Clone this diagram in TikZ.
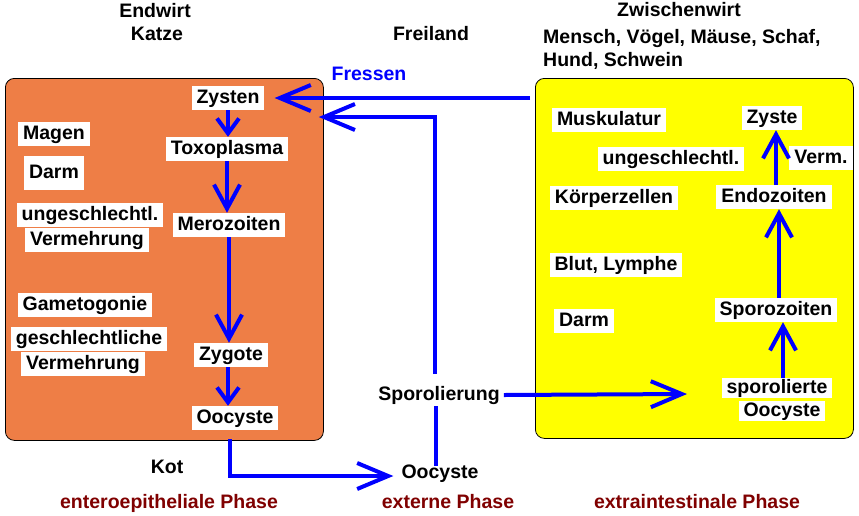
\documentclass[tikz,border=0pt]{standalone}
\usepackage{fontspec}
\setmainfont{Liberation Sans}
\usetikzlibrary{arrows.meta}
\definecolor{boxorange}{RGB}{238,126,70}
\definecolor{boxyellow}{RGB}{255,255,0}
\definecolor{phasered}{RGB}{128,0,0}
\definecolor{arrowblue}{RGB}{0,0,255}
\tikzset{
  lab/.style={fill=white, inner xsep=5pt, inner ysep=3pt, text height=14pt, text depth=4pt,
    font=\bfseries\fontsize{19.5}{22}\selectfont},
  txt/.style={inner sep=0pt, text height=14pt, text depth=4pt,
    font=\bfseries\fontsize{19.5}{22}\selectfont},
  phase/.style={txt, text=phasered},
  conn/.style={draw=arrowblue, line width=4pt},
  tipS/.style={conn, -{Straight Barb[length=15pt,width=22pt]}},
  tipM/.style={conn, -{Straight Barb[length=24pt,width=26pt]}},
  tipL/.style={conn, -{Straight Barb[length=31pt,width=26pt]}},
  hostbox/.style={draw=black, line width=0.8pt, rounded corners=9pt, anchor=north west, inner sep=0pt}
}
\begin{document}
\begin{tikzpicture}[x=1pt,y=-1pt]
\useasboundingbox[fill=white] (0,0) rectangle (859,515);

% host boxes
\node[hostbox, fill=boxorange, minimum width=318pt, minimum height=362pt] (lbox) at (5,78) {};
\node[hostbox, fill=boxyellow, minimum width=318pt, minimum height=360pt] (rbox) at (535,78) {};

% headers
\node[txt] (endwirt) at (155,12) {Endwirt};
\node[txt] (katze) at (157,35) {Katze};
\node[txt] (freiland) at (431,35) {Freiland};
\node[txt] (zwischen) at (679,11) {Zwischenwirt};
\node[txt, anchor=west] (wirte1) at (543,38) {Mensch, Vögel, Mäuse, Schaf,};
\node[txt, anchor=west] (wirte2) at (543,61) {Hund, Schwein};
\node[txt, text=arrowblue] (fressen) at (369,75) {Fressen};

% left box
\node[lab] (zysten) at (228,98) {Zysten};
\node[lab] (toxo) at (227,149) {Toxoplasma};
\node[lab] (mero) at (229,225) {Merozoiten};
\node[lab] (zygote) at (231,355) {Zygote};
\node[lab] (oc1) at (235,418) {Oocyste};
\node[lab] (magen) at (54,134) {Magen};
\node[lab, minimum height=34pt] (darm1) at (54,173) {Darm};
\node[lab] (ung1) at (90,215) {ungeschlechtl.};
\node[lab] (verm1) at (87,240) {Vermehrung};
\node[lab] (gameto) at (85,305) {Gametogonie};
\node[lab] (gesch) at (89,339) {geschlechtliche};
\node[lab] (verm2) at (83,364) {Vermehrung};

% external
\node[txt] (kot) at (167,468) {Kot};
\node[txt] (spor) at (439,395) {Sporolierung};
\node[txt] (oc2) at (440,473) {Oocyste};

% right box
\node[lab] (musk) at (609,120) {Muskulatur};
\node[lab] (ung2) at (671,159) {ungeschlechtl.};
\node[lab] (koerper) at (614,198) {Körperzellen};
\node[lab] (blut) at (616,265) {Blut, Lymphe};
\node[lab] (darm2) at (584,321) {Darm};
\node[lab] (zyste) at (772,118) {Zyste};
\node[lab] (vermk) at (821,158) {Verm.};
\node[lab] (endo) at (774,197) {Endozoiten};
\node[lab] (spz) at (776,310) {Sporozoiten};
\node[lab, inner ysep=1pt] (spo1) at (777,388) {sporolierte};
\node[lab, inner ysep=1pt] (spo2) at (782,411) {Oocyste};

% phases
\node[phase] (ph1) at (169,503) {enteroepitheliale Phase};
\node[phase] (ph2) at (448,503) {externe Phase};
\node[phase] (ph3) at (697,503) {extraintestinale Phase};

% coordinates for free ends
\coordinate (corner) at (435,117);
\coordinate (sptip) at (687,394);

% left chain
\draw[tipS] (zysten.south) -- (zysten.south |- toxo.north);
\draw[tipM] (toxo.south) -- (toxo.south |- mero.north);
\draw[tipM] (mero.south) -- (mero.south |- zygote.north);
\draw[tipS] ([xshift=-3pt]zygote.south) -- ([xshift=-3pt]zygote.south |- oc1.north);

% Kot arrow
\draw[tipL] ([xshift=-5pt,yshift=-9pt]oc1.south) |- ([xshift=-8pt,yshift=-3pt]oc2.west);

% Sporolierung paths
\draw[conn] ([xshift=-4pt,yshift=-2pt]oc2.north) -- ([xshift=-4pt,yshift=-2pt]oc2.north |- spor.south);
\draw[tipL] ([xshift=-4pt,yshift=12pt]spor.north) -- (corner) -- ([xshift=-5pt]lbox.east |- corner);
\draw[tipL] ([xshift=4pt]spor.east) -- (sptip);

% Fressen
\draw[tipL] ([xshift=-5pt]rbox.west |- zysten.east) -- ([xshift=10pt]zysten.east);

% right chain
\draw[tipM] ([xshift=2pt]endo.north) -- ([xshift=2pt]endo.north |- zyste.south);
\draw[tipM] ([xshift=3pt]spz.north) -- ([xshift=3pt]spz.north |- endo.south);
\draw[tipM] ([xshift=6pt]spo1.north) -- ([xshift=6pt]spo1.north |- spz.south);
\end{tikzpicture}
\end{document}
